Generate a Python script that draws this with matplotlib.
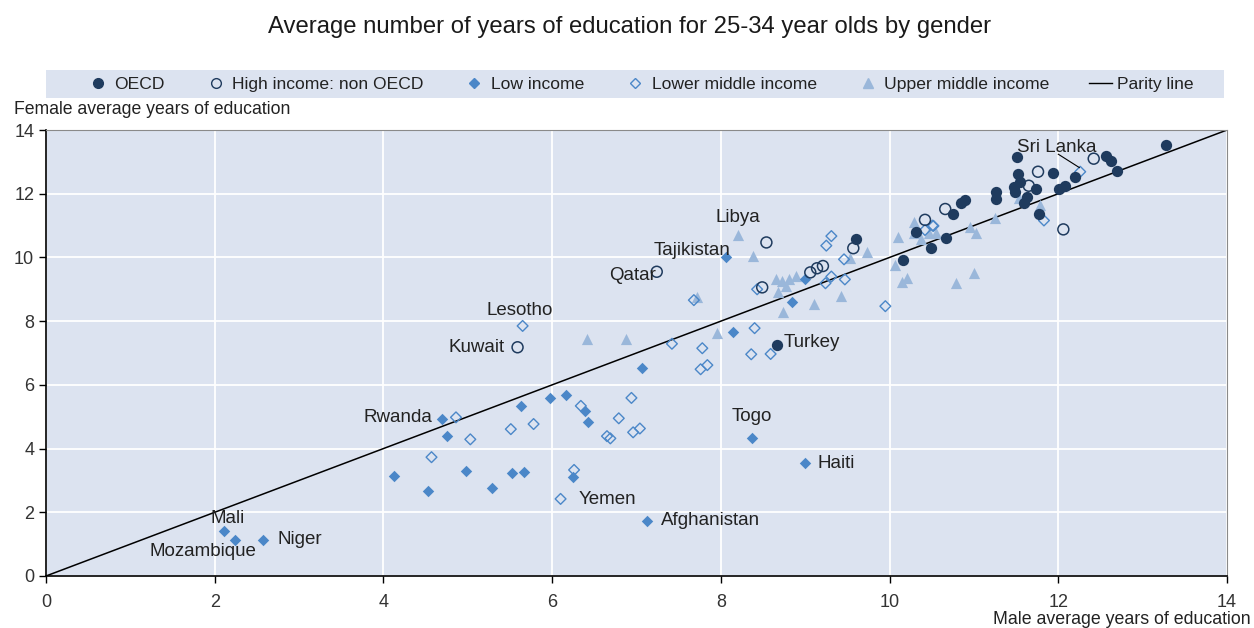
import matplotlib
matplotlib.use("Agg")
import matplotlib.pyplot as plt
from matplotlib.patches import Rectangle
from matplotlib.lines import Line2D

plt.rcParams["font.family"] = ["Liberation Sans", "DejaVu Sans"]

# ---- data (male years, female years) ----
oecd_x = [13.28, 12.56, 12.62, 12.70, 12.20, 12.08, 12.01, 11.94, 11.77, 11.73,
          11.63, 11.59, 11.55, 11.52, 11.51, 11.47, 11.49, 11.26, 11.26, 10.89,
          10.85, 10.75, 10.67, 10.49, 10.31, 10.16, 9.60, 8.67]
oecd_y = [13.53, 13.19, 13.04, 12.72, 12.53, 12.24, 12.14, 12.66, 11.35, 12.15,
          11.89, 11.72, 12.36, 12.61, 13.16, 12.22, 12.06, 11.82, 12.06, 11.80,
          11.72, 11.35, 10.60, 10.31, 10.81, 9.92, 10.57, 7.25]

hi_x = [12.42, 11.76, 11.65, 10.66, 10.42, 12.06, 8.54, 9.57, 7.24, 9.06,
        9.14, 9.21, 8.49, 5.59]
hi_y = [13.10, 12.69, 12.25, 11.52, 11.18, 10.88, 10.47, 10.29, 9.55, 9.53,
        9.66, 9.73, 9.06, 7.18]

low_x = [2.11, 2.24, 2.57, 4.13, 4.53, 4.69, 4.75, 4.98, 5.29, 5.53,
         5.67, 5.63, 5.98, 6.17, 6.39, 6.43, 6.25, 7.06, 7.13, 8.37,
         9.00, 8.06, 9.00, 8.84, 8.14]
low_y = [1.42, 1.13, 1.13, 3.14, 2.67, 4.93, 4.40, 3.31, 2.76, 3.23,
         3.26, 5.34, 5.59, 5.69, 5.19, 4.84, 3.12, 6.52, 1.73, 4.32,
         3.54, 10.02, 9.31, 8.61, 7.65]

lm_x = [5.65, 4.86, 5.03, 4.57, 5.51, 5.78, 6.34, 6.26, 6.10, 6.65,
        6.69, 6.79, 6.94, 6.96, 7.04, 7.42, 7.78, 7.76, 7.84, 7.68,
        8.40, 8.36, 8.59, 8.43, 9.25, 9.31, 9.46, 9.31, 9.24, 9.47,
        9.95, 10.42, 10.51, 12.26, 10.52, 11.83]
lm_y = [7.85, 4.98, 4.29, 3.73, 4.61, 4.77, 5.34, 3.33, 2.42, 4.39,
        4.32, 4.95, 5.59, 4.51, 4.63, 7.29, 7.15, 6.49, 6.62, 8.66,
        7.78, 6.96, 6.97, 9.00, 10.37, 10.67, 9.94, 9.40, 9.19, 9.31,
        8.47, 10.86, 11.00, 12.69, 10.99, 11.16]

um_x = [6.41, 6.87, 7.95, 8.20, 8.38, 7.72, 8.65, 8.73, 8.81, 8.89,
        8.68, 8.77, 8.74, 9.11, 9.42, 9.53, 9.73, 10.10, 10.07, 10.15,
        10.21, 10.29, 10.29, 10.37, 10.47, 10.55, 10.79, 10.95, 11.03, 11.25,
        11.53, 11.78, 11.00]
um_y = [7.43, 7.43, 7.64, 10.70, 10.04, 8.77, 9.31, 9.26, 9.31, 9.42,
        8.90, 9.10, 8.30, 8.54, 8.80, 9.97, 10.18, 10.65, 9.76, 9.24,
        9.34, 11.12, 10.76, 10.57, 10.78, 10.78, 9.21, 10.96, 10.78, 11.23,
        11.85, 11.64, 9.50]

labels = ["Sri Lanka", "Libya", "Tajikistan", "Qatar", "Lesotho", "Kuwait", "Turkey",
          "Rwanda", "Togo", "Haiti", "Yemen", "Afghanistan", "Mali", "Mozambique", "Niger"]
label_x = [11.98, 8.20, 7.66, 6.95, 5.61, 5.10, 8.75, 4.17, 8.37, 9.15, 6.31, 7.29, 2.15, 1.86, 2.74]
label_y = [13.46, 11.24, 10.23, 9.42, 8.32, 7.16, 7.34, 4.99, 5.02, 3.52, 2.39, 1.73, 1.82, 0.78, 1.16]
label_ha = ["center", "center", "center", "center", "center", "center", "left",
            "center", "center", "left", "left", "left", "center", "center", "left"]

navy = "#1f3b5e"
mid = "#4b87c8"
light = "#9ab7da"
bg = "#dce3f0"
txt = "#222222"

fig = plt.figure(figsize=(12.54, 6.28), dpi=100, facecolor="white")
ax = fig.add_axes([46 / 1254, 1 - 576 / 628, (1227 - 46) / 1254, (576 - 130) / 628])
ax.set_facecolor(bg)
ax.set_xlim(0, 14)
ax.set_ylim(0, 14)
ax.set_xticks(range(0, 15, 2))
ax.set_yticks(range(0, 15, 2))
ax.grid(True, color="white", linewidth=1.3, zorder=0)
ax.set_axisbelow(True)
for s in ("top", "right"):
    ax.spines[s].set_color("#8a8a8a")
    ax.spines[s].set_linewidth(0.8)
for s in ("left", "bottom"):
    ax.spines[s].set_color("black")
    ax.spines[s].set_linewidth(1.2)
ax.tick_params(direction="out", length=5, width=1, labelsize=13, colors="black",
               labelcolor="#333333")
ax.tick_params(axis="x", pad=8)

ax.plot([0, 14], [0, 14], color="black", linewidth=1.1, zorder=2)
ax.scatter(um_x, um_y, marker="^", s=65, color=light, linewidths=0, zorder=3)
ax.scatter(lm_x, lm_y, marker="D", s=30, facecolors="none", edgecolors=mid,
           linewidths=1.0, zorder=3)
ax.scatter(low_x, low_y, marker="D", s=34, color=mid, linewidths=0, zorder=4)
ax.scatter(hi_x, hi_y, marker="o", s=62, facecolors="none", edgecolors=navy,
           linewidths=1.1, zorder=4)
ax.scatter(oecd_x, oecd_y, marker="o", s=66, color=navy, linewidths=0, zorder=5)

for t, lx, ly, ha in zip(labels, label_x, label_y, label_ha):
    ax.text(lx, ly, t, ha=ha, va="center", fontsize=13.5, color=txt, zorder=6)
# leader line for Sri Lanka
ax.plot([12.0, 12.25], [13.24, 12.82], color="black", linewidth=0.8, zorder=6)

ax.text(-0.027, 1.046, "Female average years of education", transform=ax.transAxes,
        ha="left", va="center", fontsize=12.7, color=txt)
fig.text(1251 / 1254, 1 - 620 / 628, "Male average years of education",
         ha="right", va="center", fontsize=12.8, color=txt)
fig.text(630 / 1254, 1 - 27 / 628,
         "Average number of years of education for 25-34 year olds by gender",
         ha="center", va="center", fontsize=17.2, color="#1a1a1a")

# legend band
fig.patches.append(Rectangle((46 / 1254, 1 - 98 / 628), (1224 - 46) / 1254, 28 / 628,
                             transform=fig.transFigure, facecolor=bg, edgecolor="none",
                             zorder=0))
handles = [
    Line2D([], [], marker="o", ls="none", color=navy, markersize=7),
    Line2D([], [], marker="o", ls="none", markerfacecolor="none", markeredgecolor=navy,
           markersize=7, markeredgewidth=1.0),
    Line2D([], [], marker="D", ls="none", color=mid, markersize=5.5),
    Line2D([], [], marker="D", ls="none", markerfacecolor="none", markeredgecolor=mid,
           markersize=5.5, markeredgewidth=1.0),
    Line2D([], [], marker="^", ls="none", color=light, markersize=7),
    Line2D([], [], color="black", linewidth=1.0),
]
names = ["OECD", "High income: non OECD", "Low income", "Lower middle income",
         "Upper middle income", "Parity line"]
fig.legend(handles, names, loc="center", bbox_to_anchor=(640 / 1254, 1 - 84 / 628),
           ncol=6, frameon=False, fontsize=12.6, handlelength=1.3, handletextpad=0.3,
           columnspacing=2.25, labelcolor=txt)

fig.savefig("out.png", dpi=100)
